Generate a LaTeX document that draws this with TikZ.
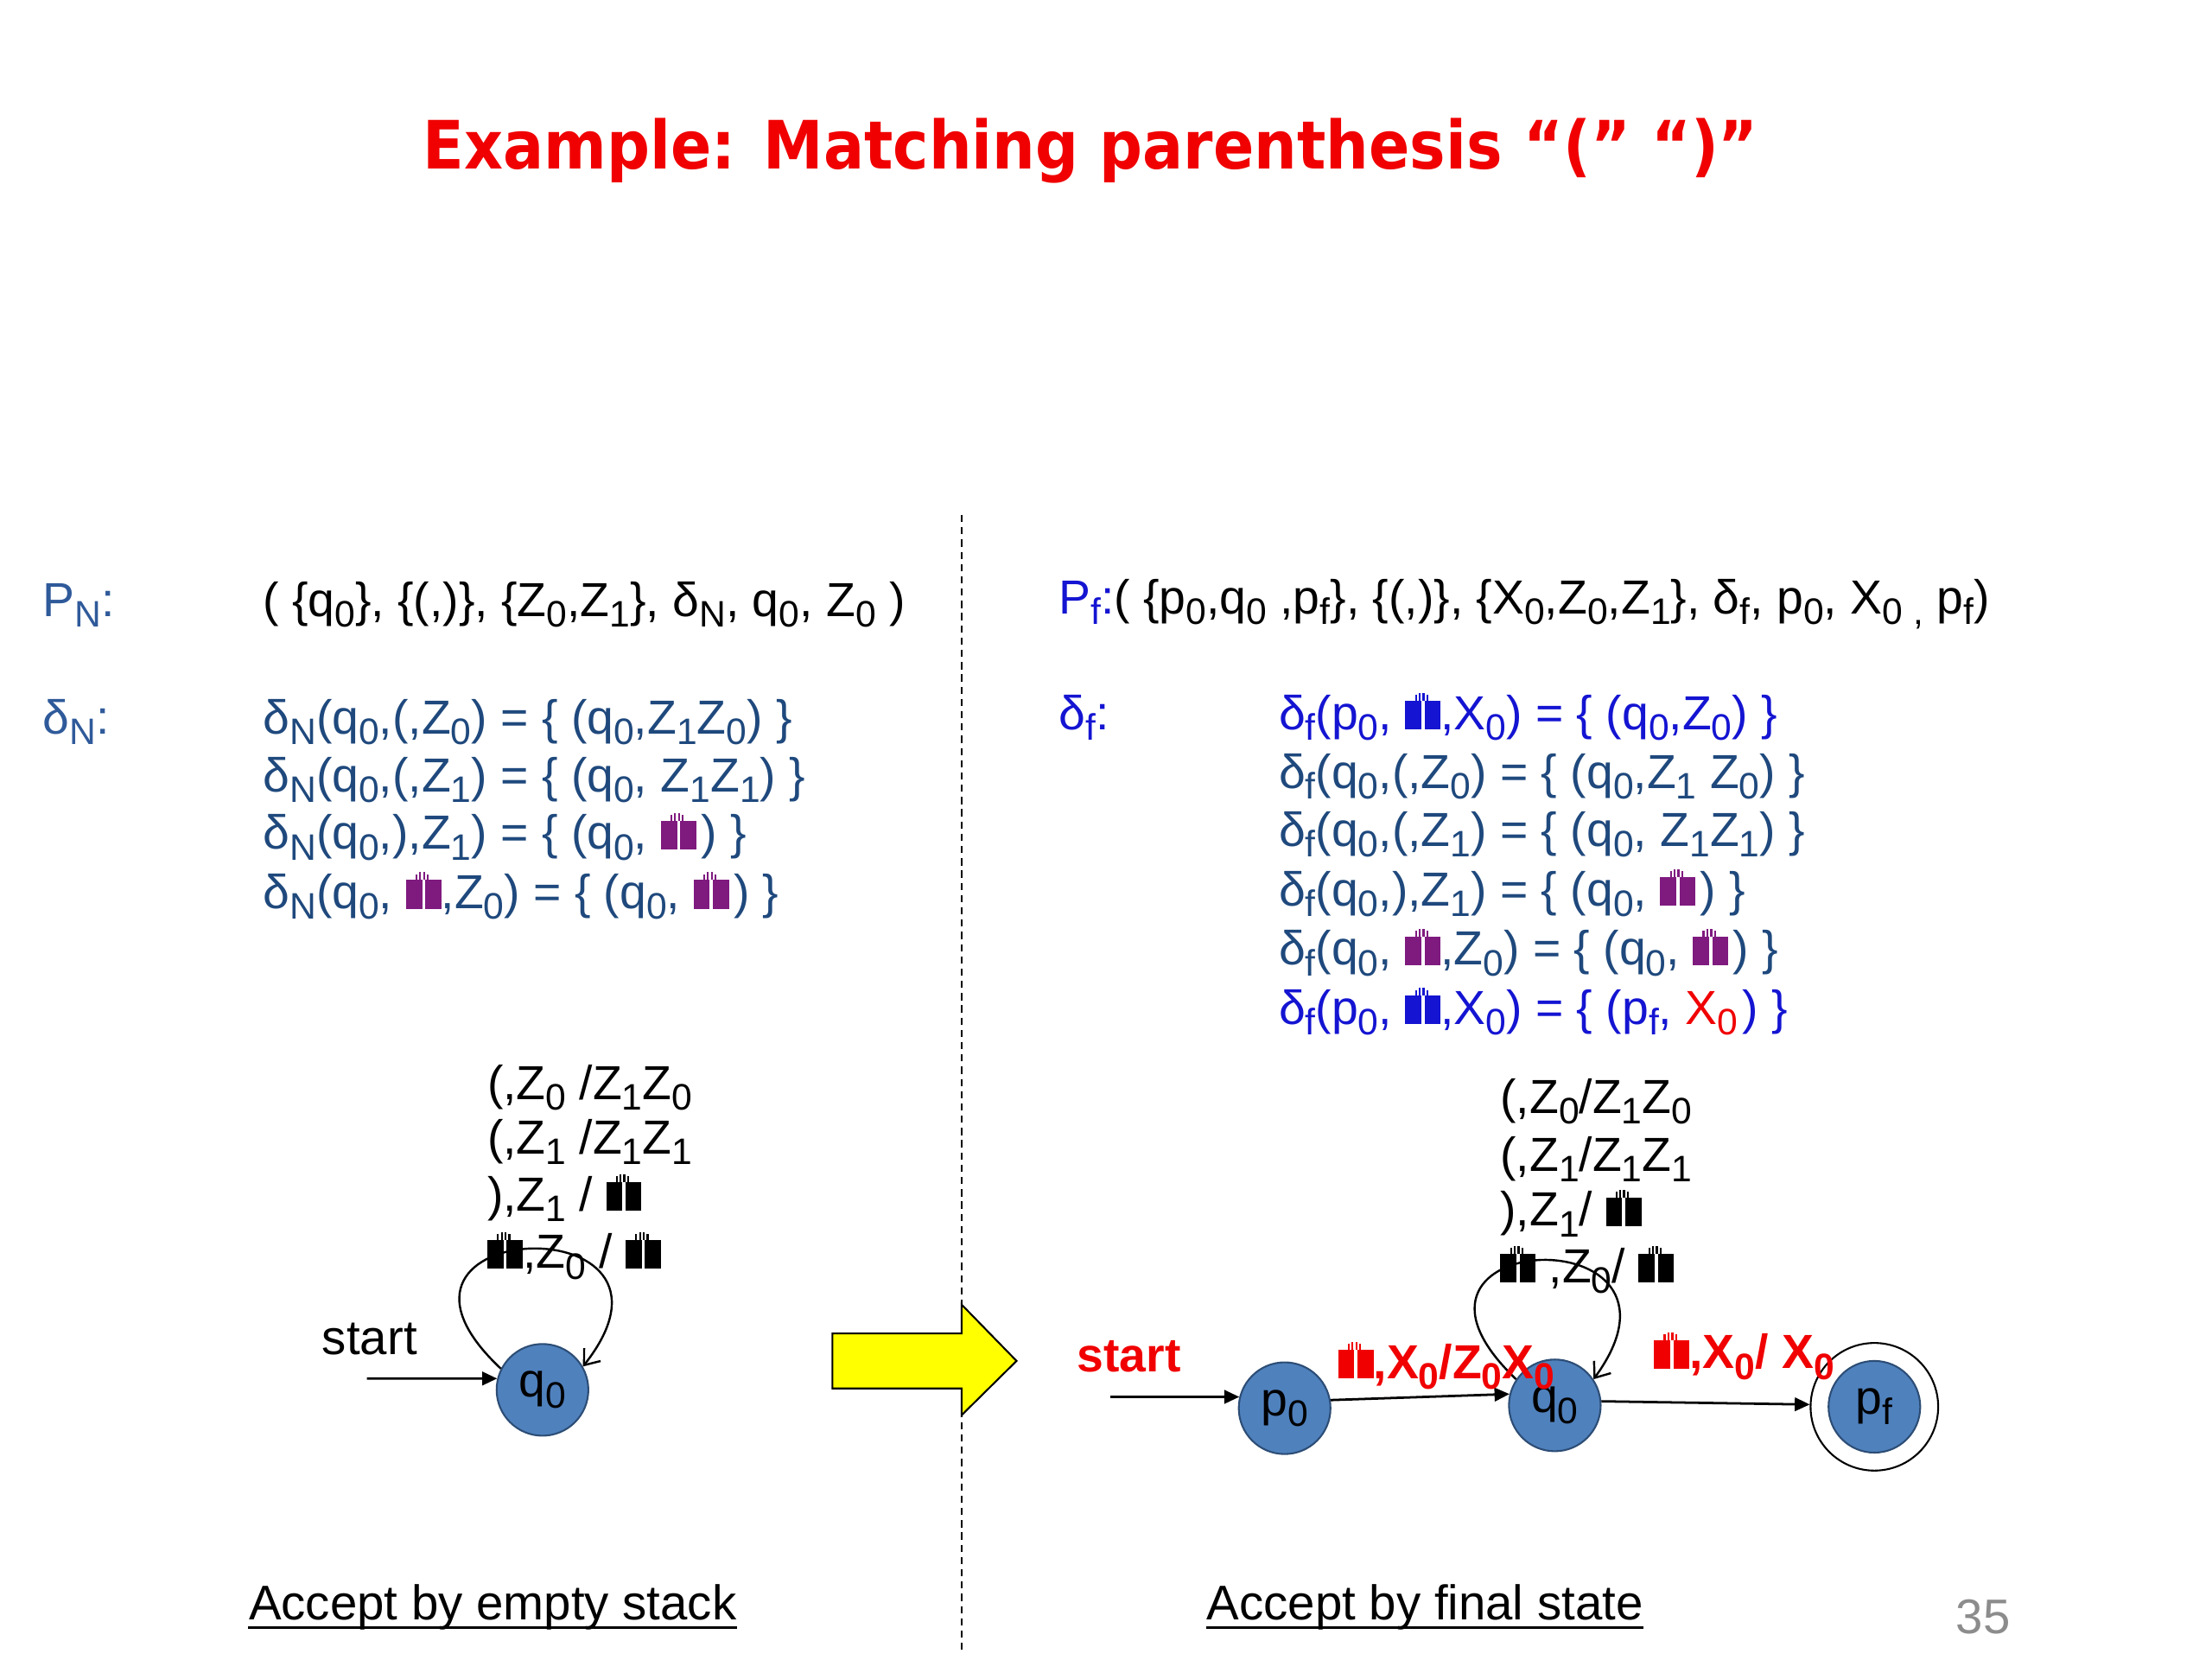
\documentclass[tikz,border=0pt]{standalone}
\usepackage{fontspec}
\usepackage{graphicx}
\setmainfont{Liberation Sans}
\newfontfamily\titlefont{DejaVu Sans}
\usetikzlibrary{arrows.meta}
\definecolor{dkblue}{HTML}{1F497D}
\definecolor{lblue}{HTML}{2F5A9A}
\definecolor{brblue}{HTML}{1414D2}
\definecolor{ttlred}{HTML}{F00000}
\definecolor{lblred}{HTML}{F00000}
\definecolor{giftpurple}{HTML}{7F1A7F}
\definecolor{statefill}{HTML}{4F81BD}
\definecolor{stateline}{HTML}{2C4D75}
\definecolor{arrowyellow}{HTML}{FFFF00}
\definecolor{pagegray}{HTML}{8C8C8C}
\newcommand\sbs[1]{\raisebox{-0.22em}{\scalebox{0.77}{#1}}}
\newcommand\giftbox[1]{{\color{#1}\rlap{\kern0.2em\raisebox{0.6em}{\rule{0.04em}{0.12em}\kern0.04em\rule{0.04em}{0.16em}\kern0.04em\rule{0.04em}{0.16em}\kern0.04em\rule{0.04em}{0.12em}}}\rule{0.34em}{0.6em}\kern0.06em\rule{0.34em}{0.6em}}}
\begin{document}
\begin{tikzpicture}[x=0.016583cm, y=-0.016583cm,
  txt/.style={anchor=base west, inner sep=0pt, font=\fontsize{16}{19}\selectfont},
  captxt/.style={anchor=base west, inner sep=0pt, font=\fontsize{16.3}{19}\selectfont},
  redtxt/.style={txt, font=\fontsize{16}{19}\selectfont\bfseries, text=lblred},
  state/.style={circle, fill=statefill, draw=stateline, line width=0.6pt, minimum size=1.078cm, inner sep=0pt, font=\fontsize{16}{19}\selectfont},
  ring/.style={circle, draw=black, line width=0.6pt, minimum size=1.50cm, inner sep=0pt},
  edge/.style={line width=0.8pt, -{Triangle[length=5pt,width=4.5pt]}},
  loopedge/.style={line width=0.7pt, -{Straight Barb[length=4.5pt,width=7pt]}},
  divider/.style={line width=0.6pt, dash pattern=on 2.4pt off 1.7pt},
  bigarrow/.style={fill=arrowyellow, draw=black, line width=0.6pt, line join=miter}
]
\useasboundingbox (0,0) rectangle (1567.8,1175.9);

% title
\node[anchor=base, inner sep=0pt, font=\titlefont\bfseries\fontsize{22.3}{26}\selectfont, text=ttlred] (title) at (773,120) {\scalebox{0.905}[1]{Example: Matching parenthesis “(” “)”}};

% divider
\coordinate (divtop) at (681.5,365);
\coordinate (divbot) at (681.5,1170);
\draw[divider] (divtop) -- (divbot);

% left definitions
\node[txt, text=lblue] (PN) at (30,437) {P\sbs{N}:};
\node[txt] (PNt) at (186,437) {( \{q\sbs{0}\}, \{(,)\}, \{Z\sbs{0},Z\sbs{1}\}, δ\sbs{N}, q\sbs{0}, Z\sbs{0} )};
\node[txt, text=lblue] (dN) at (30,520) {δ\sbs{N}:};
\node[txt, text=dkblue] (dN1) at (186,520) {δ\sbs{N}(q\sbs{0},(,Z\sbs{0}) = \{ (q\sbs{0},Z\sbs{1}Z\sbs{0}) \}};
\node[txt, text=dkblue] (dN2) at (186,561) {δ\sbs{N}(q\sbs{0},(,Z\sbs{1}) = \{ (q\sbs{0}, Z\sbs{1}Z\sbs{1}) \}};
\node[txt, text=dkblue] (dN3) at (186,602) {δ\sbs{N}(q\sbs{0},),Z\sbs{1}) = \{ (q\sbs{0}, \giftbox{giftpurple}\kern0.1em) \}};
\node[txt, text=dkblue] (dN4) at (186,644) {δ\sbs{N}(q\sbs{0}, \giftbox{giftpurple},Z\sbs{0}) = \{ (q\sbs{0}, \giftbox{giftpurple}\kern0.1em) \}};

% right definitions
\node[txt] (Pf) at (750,435) {\textcolor{brblue}{P\sbs{f}:}( \{p\sbs{0},q\sbs{0} ,p\sbs{f}\}, \{(,)\}, \{X\sbs{0},Z\sbs{0},Z\sbs{1}\}, δ\sbs{f}, p\sbs{0}, X\sbs{0 ,} p\sbs{f})};
\node[txt, text=brblue] (df) at (750,517) {δ\sbs{f}:};
\node[txt, text=brblue] (df1) at (906,517) {δ\sbs{f}(p\sbs{0}, \giftbox{brblue},X\sbs{0}) = \{ (q\sbs{0},Z\sbs{0}) \}};
\node[txt, text=dkblue] (df2) at (906,559) {δ\sbs{f}(q\sbs{0},(,Z\sbs{0}) = \{ (q\sbs{0},Z\sbs{1} Z\sbs{0}) \}};
\node[txt, text=dkblue] (df3) at (906,600) {δ\sbs{f}(q\sbs{0},(,Z\sbs{1}) = \{ (q\sbs{0}, Z\sbs{1}Z\sbs{1}) \}};
\node[txt, text=dkblue] (df4) at (906,642) {δ\sbs{f}(q\sbs{0},),Z\sbs{1}) = \{ (q\sbs{0}, \giftbox{giftpurple}\kern0.1em) \}};
\node[txt, text=dkblue] (df5) at (906,684) {δ\sbs{f}(q\sbs{0}, \giftbox{giftpurple},Z\sbs{0}) = \{ (q\sbs{0}, \giftbox{giftpurple}\kern0.1em) \}};
\node[txt, text=brblue] (df6) at (906,726) {δ\sbs{f}(p\sbs{0}, \giftbox{brblue},X\sbs{0}) = \{ (p\sbs{f}, \textcolor{lblred}{X\sbs{0}}\kern0.1em) \}};

% left automaton
\node[txt] (lL1) at (345,779) {(,Z\sbs{0} /Z\sbs{1}Z\sbs{0}};
\node[txt] (lL2) at (345,818) {(,Z\sbs{1} /Z\sbs{1}Z\sbs{1}};
\node[txt] (lL3) at (345,858) {),Z\sbs{1} / \giftbox{black}};
\node[txt] (lL4) at (345,899) {\giftbox{black},Z\sbs{0} / \giftbox{black}};
\node[state] (q0L) at (384.5,985) {q\sbs{0}};
\node[captxt] (startL) at (228,960) {start};
\coordinate (sL) at (260,977);
\draw[edge] (sL) -- (q0L.166);
\draw[loopedge] (q0L.153) .. controls (240,862) and (505,852) .. (q0L.30);

% yellow arrow
\draw[bigarrow] (590,945) -- (681.5,945) -- (681.5,924.5) -- (720.5,964.5) -- (681.5,1003) -- (681.5,984) -- (590,984) -- cycle;

% right automaton
\node[txt] (rL1) at (1063,789) {(,Z\sbs{0}/Z\sbs{1}Z\sbs{0}};
\node[txt] (rL2) at (1063,830) {(,Z\sbs{1}/Z\sbs{1}Z\sbs{1}};
\node[txt] (rL3) at (1063,869) {),Z\sbs{1}/ \giftbox{black}};
\node[txt] (rL4) at (1063,909) {\giftbox{black} ,Z\sbs{0}/ \giftbox{black}};
\node[state] (p0) at (910.5,998) {p\sbs{0}};
\node[state] (q0R) at (1102,996) {q\sbs{0}};
\node[ring] (pfo) at (1328.5,997) {};
\node[state] (pf) at (1328.5,997) {p\sbs{f}};
\node[redtxt] (startR) at (763,972) {start};
\coordinate (sR) at (787,990);
\draw[edge] (sR) -- (p0.166);
\draw[edge] (p0.10) -- (q0R.166);
\draw[edge] (q0R.5) -- (pfo.178);
\draw[loopedge] (q0R.146) .. controls (962,870) and (1215,860) .. (q0R.34);
\node[redtxt] (e1) at (948,977) {\giftbox{lblred},X\sbs{0}/Z\sbs{0}X\sbs{0}};
\node[redtxt] (e2) at (1172,970) {\giftbox{lblred},X\sbs{0}/ X\sbs{0}};

% bottom captions
\node[captxt] (accL) at (176,1148) {Accept by empty stack};
\draw[line width=1pt] ([yshift=-2.6pt]accL.base west) -- ([yshift=-2.6pt]accL.base east);
\node[captxt] (accR) at (855,1148) {Accept by final state};
\draw[line width=1pt] ([yshift=-2.6pt]accR.base west) -- ([yshift=-2.6pt]accR.base east);
\node[captxt, text=pagegray] (pg) at (1386,1158) {35};
\end{tikzpicture}
\end{document}
